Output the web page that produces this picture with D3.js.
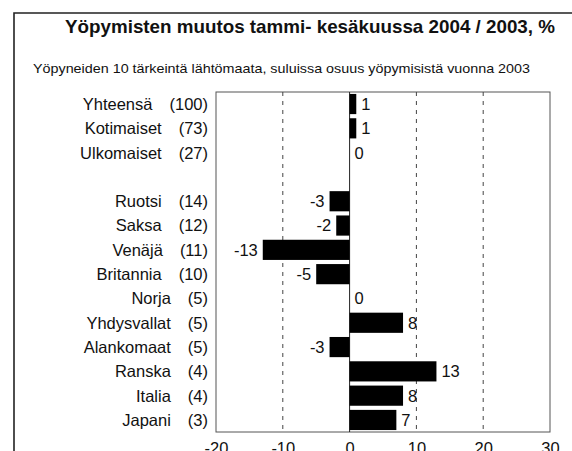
<!DOCTYPE html>
<html>
<head>
<meta charset="utf-8">
<script src="https://cdn.jsdelivr.net/npm/d3@7"></script>
<style>
  html, body { margin: 0; padding: 0; background: #fff; }
  svg { display: block; }
  text { font-family: "Liberation Sans", Arial, Helvetica, sans-serif; fill: #111; }
</style>
</head>
<body>
<svg id="chart" width="572" height="451"></svg>
<script>
const title = "Yöpymisten muutos tammi- kesäkuussa 2004 / 2003, %";
const subtitle = "Yöpyneiden 10 tärkeintä lähtömaata, suluissa osuus  yöpymisistä vuonna 2003";
const categories = ["Yhteensä","Kotimaiset","Ulkomaiset",null,"Ruotsi","Saksa","Venäjä","Britannia","Norja","Yhdysvallat","Alankomaat","Ranska","Italia","Japani"];
const shares = [100,73,27,null,14,12,11,10,5,5,5,4,4,3];
const values = [1,1,0,null,-3,-2,-13,-5,0,8,-3,13,8,7];
const tickValues = [-20,-10,0,10,20,30];
const gridValues = [-10,10,20];

const svg = d3.select("#chart");
const W = 572, H = 451;
const plot = {left: 216, right: 550, top: 92, bottom: 432};

// outer frame (open at right/bottom as in the scan)
svg.append("path")
  .attr("d", `M14,${H+5} L14,13 L${W+5},13`)
  .attr("fill", "none").attr("stroke", "#222").attr("stroke-width", 1.6);

svg.append("text")
  .attr("x", 65).attr("y", 33)
  .attr("textLength", 490).attr("lengthAdjust", "spacingAndGlyphs")
  .style("font-size", "18.5px").style("font-weight", "bold")
  .text(title);

svg.append("text")
  .attr("x", 33).attr("y", 73)
  .attr("textLength", 497).attr("lengthAdjust", "spacingAndGlyphs")
  .style("font-size", "13px")
  .text(subtitle);

const idx = d3.range(categories.length);
const x = d3.scaleLinear().domain([-20, 30]).range([plot.left, plot.right]);
const y = d3.scaleBand().domain(idx).range([plot.top, plot.bottom])
  .paddingInner(0.17).paddingOuter(0.08);

// plot frame
svg.append("rect")
  .attr("x", plot.left).attr("y", plot.top)
  .attr("width", plot.right - plot.left).attr("height", plot.bottom - plot.top)
  .attr("fill", "none").attr("stroke", "#555").attr("stroke-width", 1);

// dashed gridlines
svg.append("g").selectAll("line").data(gridValues).join("line")
  .attr("x1", d => x(d)).attr("x2", d => x(d))
  .attr("y1", plot.top).attr("y2", plot.bottom)
  .attr("stroke", "#444").attr("stroke-width", 1)
  .attr("stroke-dasharray", "4,5");

// zero line
svg.append("line")
  .attr("x1", x(0)).attr("x2", x(0))
  .attr("y1", plot.top).attr("y2", plot.bottom)
  .attr("stroke", "#222").attr("stroke-width", 1);

const rows = idx.filter(i => categories[i] !== null);

// bars
svg.append("g").selectAll("rect").data(rows).join("rect")
  .attr("x", i => x(Math.min(0, values[i])))
  .attr("y", i => y(i))
  .attr("width", i => Math.abs(x(values[i]) - x(0)))
  .attr("height", y.bandwidth())
  .attr("fill", "#000");

// value labels
svg.append("g").selectAll("text").data(rows).join("text")
  .attr("x", i => values[i] < 0 ? x(values[i]) - 5 : x(values[i]) + 5)
  .attr("y", i => y(i) + y.bandwidth() / 2)
  .attr("dy", "0.36em")
  .attr("text-anchor", i => values[i] < 0 ? "end" : "start")
  .style("font-size", "16.5px")
  .text(i => String(values[i]));

// category labels: share right-aligned, name before it
const lab = svg.append("g");
rows.forEach(i => {
  const cy = y(i) + y.bandwidth() / 2;
  const s = lab.append("text")
    .attr("x", 208).attr("y", cy).attr("dy", "0.36em")
    .attr("text-anchor", "end")
    .style("font-size", "16.5px")
    .text(`(${shares[i]})`);
  const w = s.node().getComputedTextLength();
  lab.append("text")
    .attr("x", 208 - w - 17).attr("y", cy).attr("dy", "0.36em")
    .attr("text-anchor", "end")
    .style("font-size", "16.5px")
    .text(categories[i]);
});

// x axis labels (cut by the bottom edge, as in the scan)
const axis = svg.append("g")
  .attr("transform", `translate(0,${plot.bottom})`)
  .call(d3.axisBottom(x).tickValues(tickValues).tickSize(0).tickPadding(10)
    .tickFormat(d => String(d)));
axis.select(".domain").remove();
axis.selectAll("text")
  .style("font-size", "16.5px")
  .style("font-family", "'Liberation Sans', Arial, sans-serif")
  .attr("fill", "#111");
</script>
</body>
</html>
